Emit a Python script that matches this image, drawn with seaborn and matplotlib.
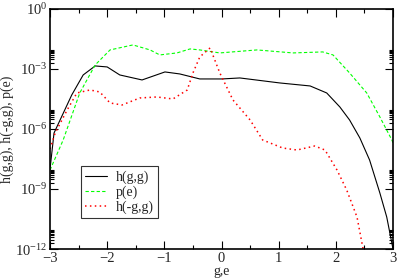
import numpy as np
import pandas as pd
import matplotlib
matplotlib.use("Agg")
import matplotlib.pyplot as plt
import seaborn as sns
from matplotlib.ticker import LogLocator, MultipleLocator, NullFormatter

# h(g,g): x and log10 of value
hgg_x = [-3.0, -2.93, -2.62, -2.42, -2.21, -2.0, -1.78, -1.39, -0.99, -0.73, -0.38,
         0.01, 0.32, 1.02, 1.55, 1.84, 2.07, 2.24, 2.42, 2.59, 2.77, 2.89, 3.0]
hgg_log = [-8.0, -6.2, -4.3, -3.3, -2.85, -2.9, -3.3, -3.55, -3.15, -3.25, -3.5,
           -3.5, -3.45, -3.7, -3.85, -4.2, -4.9, -5.55, -6.45, -7.55, -9.2, -10.4, -12.0]

# p(e)
pe_x = [-3.0, -2.77, -2.48, -2.21, -1.95, -1.55, -1.25, -1.08, -0.78, -0.55, -0.38,
        -0.03, 0.62, 1.25, 1.77, 1.95, 2.24, 2.54, 2.77, 2.98, 3.0]
pe_log = [-8.05, -6.55, -4.2, -2.8, -2.05, -1.8, -2.05, -2.3, -2.2, -2.0, -2.05,
          -2.2, -2.05, -2.2, -2.15, -2.3, -3.2, -4.2, -5.4, -6.55, -6.7]

# h(-g,g)
hmg_x = [-3.0, -2.91, -2.70, -2.53, -2.30, -2.13, -1.95, -1.74, -1.43, -1.13, -0.85,
         -0.60, -0.50, -0.38, -0.20, -0.03, 0.20, 0.50, 0.72, 1.07, 1.32, 1.63, 1.81,
         2.02, 2.19, 2.37, 2.47, 2.52]
hmg_log = [-7.0, -6.2, -5.05, -4.2, -4.05, -4.15, -4.7, -4.8, -4.45, -4.4, -4.5,
           -4.05, -3.2, -2.4, -1.95, -3.2, -4.55, -5.55, -6.55, -6.95, -7.05, -6.85, -7.05,
           -8.05, -9.05, -10.4, -11.9, -12.6]

sns.set_style("ticks")
plt.rcParams["font.family"] = ["Liberation Serif", "DejaVu Serif"]
plt.rcParams["mathtext.fontset"] = "stix"

fig = plt.figure(figsize=(3.97, 2.78), dpi=100)
ax = fig.add_axes([0.126, 0.104, 0.864, 0.864])

sns.lineplot(x=hgg_x, y=10.0 ** np.array(hgg_log), ax=ax, color="black", lw=0.8,
             label="h(g,g)")
sns.lineplot(x=pe_x, y=10.0 ** np.array(pe_log), ax=ax, color="#00ff00", lw=0.8,
             label="p(e)")
sns.lineplot(x=hmg_x, y=10.0 ** np.array(hmg_log), ax=ax, color="#ff0000", lw=1.1,
             label="h(-g,g)")
lines = ax.get_lines()
lines[1].set_dashes([3, 2])
lines[2].set_dashes([1, 2.2])

ax.set_yscale("log")
ax.set_xlim(-3, 3)
ax.set_ylim(1e-12, 1)
ax.yaxis.set_major_locator(LogLocator(base=1000, numticks=10))
ax.yaxis.set_minor_locator(LogLocator(base=1000, subs=np.arange(2, 10), numticks=10))
ax.yaxis.set_minor_formatter(NullFormatter())
ax.xaxis.set_major_locator(MultipleLocator(1))
ax.xaxis.set_minor_locator(MultipleLocator(0.5))

ax.tick_params(which="both", direction="in", top=True, right=True, labelsize=10.5,
               color="black", pad=2)
ax.tick_params(which="major", length=6, width=0.8)
ax.tick_params(which="minor", length=3, width=0.8)
for s in ax.spines.values():
    s.set_linewidth(1.2)
    s.set_color("black")

ax.set_xlabel("g,e", fontsize=10, labelpad=0)
ax.set_ylabel("h(g,g), h(-g,g), p(e)", fontsize=10, labelpad=1)

leg = ax.legend(loc="lower left", bbox_to_anchor=(0.09, 0.13), fontsize=10,
                frameon=True, fancybox=False, handlelength=1.6, borderpad=0.3,
                labelspacing=0.1, handletextpad=0.6, borderaxespad=0)
leg.get_frame().set_edgecolor("black")
leg.get_frame().set_linewidth(0.8)

fig.savefig("out.png", dpi=100)
